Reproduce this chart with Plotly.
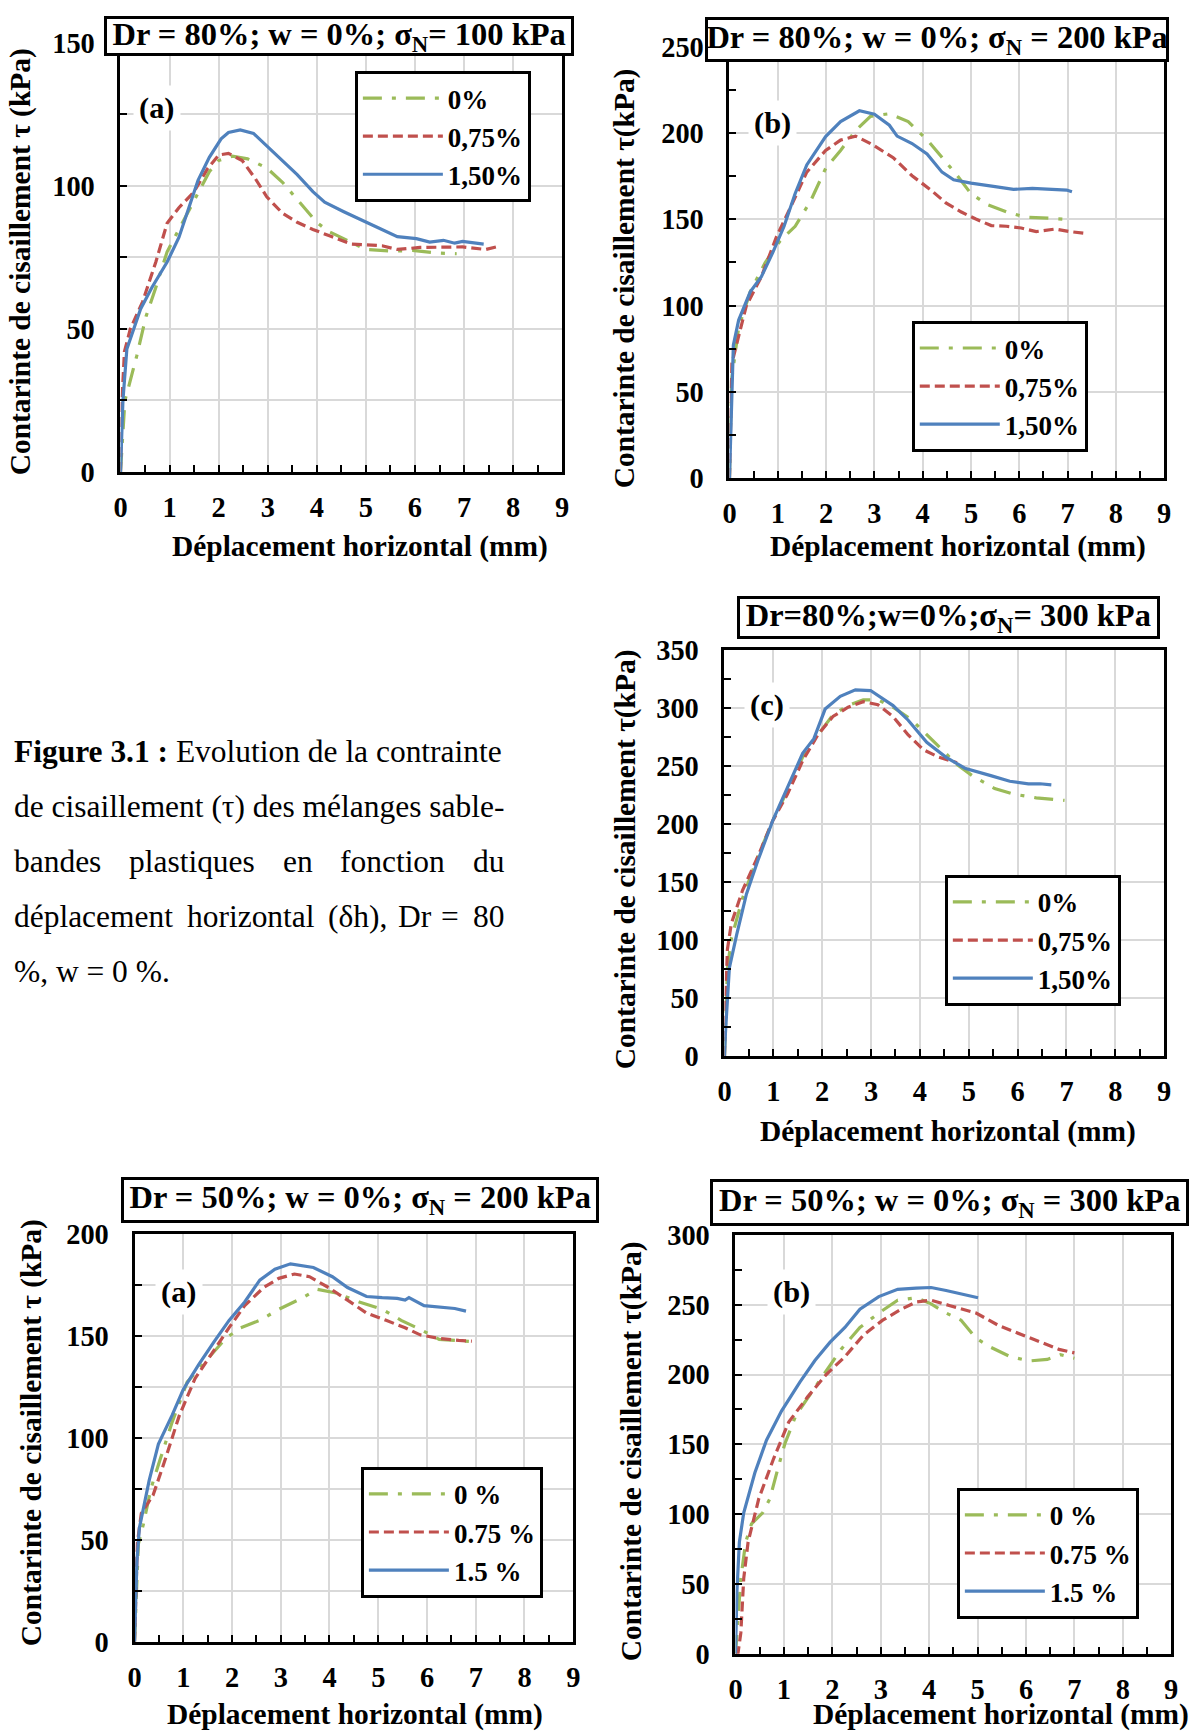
import plotly.graph_objects as go

W, H = 1189, 1731
FONT = "Liberation Serif, Times New Roman, serif"
GREEN, RED, BLUE = "#9BBB59", "#C0504D", "#4F81BD"
GRID = "#D9D9D9"

# ---------------- data ----------------
# Panel 1 : Dr=80%, sigma=100 kPa
p1_x_0 = [0, 0.05, 0.09, 0.17, 0.33, 0.52, 0.72, 0.95, 1.19, 1.42, 1.58, 1.81, 2.0, 2.28, 2.59, 2.98, 3.3, 3.69, 4.0, 4.23, 4.63, 5.0, 5.56, 5.95, 6.41, 6.85]
p1_y_0 = [0, 15, 25, 30, 40.5, 54.4, 64.5, 77, 84.8, 92.4, 98, 105, 108.9, 110.4, 109.5, 106.3, 101.3, 93.7, 87.3, 84.2, 81, 77.8, 77.2, 77.5, 76.6, 76.3]
p1_x_075 = [0, 0.03, 0.08, 0.2, 0.45, 0.72, 0.95, 1.19, 1.5, 1.77, 2.0, 2.2, 2.48, 2.75, 2.98, 3.3, 3.6, 3.92, 4.3, 4.7, 5.33, 5.64, 6.1, 6.58, 6.97, 7.44, 7.71]
p1_y_075 = [0, 25, 42, 50, 59.5, 73.4, 87, 92.4, 98, 106, 110.8, 111.4, 108.9, 102.5, 96.2, 90.5, 87.3, 84.8, 82.3, 79.7, 79.1, 77.8, 78.5, 78.7, 78.7, 77.8, 78.9]
p1_x_150 = [0, 0.05, 0.13, 0.41, 0.64, 0.95, 1.19, 1.42, 1.58, 1.81, 2.05, 2.2, 2.44, 2.71, 2.98, 3.3, 3.6, 3.92, 4.16, 4.55, 4.94, 5.25, 5.64, 6.03, 6.3, 6.58, 6.81, 6.97, 7.4]
p1_y_150 = [0, 25, 43, 57, 64.5, 73.4, 82, 93.7, 102, 110, 116.5, 118.7, 119.6, 118.4, 114, 109, 104, 98, 94.3, 91, 88, 85.4, 82.3, 81.6, 80.4, 81, 80, 80.6, 79.7]

# Panel 2 : Dr=80%, sigma=200 kPa
p2_x_0 = [0, 0.04, 0.19, 0.43, 0.74, 1.05, 1.36, 1.68, 1.99, 2.3, 2.61, 2.92, 3.31, 3.7, 4.09, 4.4, 4.72, 5.0, 5.34, 5.73, 6.12, 6.66, 7.09]
p2_y_0 = [0, 56, 87.4, 108, 125, 137.6, 146, 160.7, 179.5, 190, 201.5, 209.8, 211.3, 206.7, 196.2, 185.8, 175.3, 164.9, 158.6, 154.4, 151.3, 150.6, 149.8]
p2_x_075 = [0, 0.05, 0.16, 0.35, 0.66, 0.97, 1.29, 1.6, 1.99, 2.3, 2.61, 2.92, 3.39, 3.78, 4.17, 4.48, 4.79, 5.1, 5.42, 5.73, 6.04, 6.35, 6.74, 7.05, 7.4]
p2_y_075 = [0, 66.5, 79, 100, 116.7, 139.7, 158.6, 177.4, 190, 196, 198.3, 194, 185.8, 175.3, 167, 159.6, 154.4, 150.2, 146.4, 146, 145, 142.9, 144.4, 142.9, 141.8]
p2_x_150 = [0, 0.08, 0.19, 0.43, 0.66, 0.9, 1.13, 1.36, 1.6, 1.99, 2.3, 2.69, 3.0, 3.31, 3.47, 3.78, 4.09, 4.4, 4.64, 5.0, 5.5, 5.88, 6.27, 6.66, 6.98, 7.09]
p2_y_150 = [0, 77, 91.6, 108, 116.7, 131, 146, 165, 181.6, 198, 206.7, 213, 211, 204.6, 198.3, 194, 187.9, 177.4, 173, 171, 169, 167.4, 168, 167.4, 167, 166]

# Panel 3 : Dr=80%, sigma=300 kPa
p3_x_0 = [0, 0.06, 0.14, 0.37, 0.68, 0.99, 1.29, 1.6, 1.91, 2.22, 2.53, 2.84, 3.14, 3.45, 3.84, 4.14, 4.45, 4.76, 5.07, 5.53, 5.92, 6.38, 6.96]
p3_y_0 = [0, 75, 101, 136, 171.5, 203, 229, 257.6, 276.7, 294, 302, 307, 307, 300.6, 289.4, 276.7, 264, 251.2, 241.6, 230.5, 225.7, 222.5, 220.3]
p3_x_075 = [0, 0.01, 0.06, 0.14, 0.37, 0.68, 0.99, 1.29, 1.6, 1.91, 2.22, 2.53, 2.84, 3.14, 3.45, 3.76, 4.07, 4.38, 4.76]
p3_y_075 = [0, 30, 91.8, 114, 142.8, 171.5, 203, 225.7, 254.4, 276.7, 292.6, 300.6, 305.4, 302.8, 292.6, 276.7, 264, 257.6, 252.8]
p3_x_150 = [0, 0.02, 0.1, 0.25, 0.45, 0.68, 0.99, 1.29, 1.6, 1.83, 2.06, 2.37, 2.68, 2.99, 3.45, 3.76, 4.14, 4.53, 4.92, 5.45, 5.84, 6.22, 6.46, 6.69]
p3_y_150 = [0, 20, 75.9, 104.6, 139.6, 168, 203, 232, 260.8, 273.5, 299, 310, 315.6, 315, 302, 289.4, 270.3, 257.6, 248, 241.6, 236.8, 234.6, 234.6, 233.7]

# Panel 4 : Dr=50%, sigma=200 kPa
p4_x_0 = [0, 0.08, 0.18, 0.34, 0.53, 0.77, 1.08, 1.47, 1.87, 2.18, 2.57, 2.96, 3.43, 3.75, 4.14, 4.61, 5.08, 5.47, 5.86, 6.25, 6.88]
p4_y_0 = [0, 48, 57.5, 75.4, 89.7, 107.6, 127.3, 138, 148.7, 154, 157.6, 163, 168.4, 172.8, 171, 166.6, 163, 157.6, 153.2, 148.3, 147.3]
p4_x_075 = [0, 0.06, 0.14, 0.38, 0.61, 0.92, 1.24, 1.63, 1.94, 2.26, 2.65, 2.96, 3.28, 3.59, 3.98, 4.37, 4.76, 5.16, 5.55, 5.86, 6.25, 6.65, 6.92]
p4_y_075 = [0, 48.6, 63, 71.8, 88, 111, 129, 143.3, 154, 164.8, 173.7, 178.2, 180.3, 179, 173.7, 167.5, 161.2, 157.6, 154, 150.5, 148.7, 147.8, 147.4]
p4_x_150 = [0, 0.05, 0.1, 0.3, 0.49, 0.77, 1.0, 1.32, 1.63, 1.94, 2.26, 2.57, 2.88, 3.2, 3.67, 4.06, 4.37, 4.76, 5.08, 5.39, 5.55, 5.63, 5.94, 6.25, 6.57, 6.8]
p4_y_150 = [0, 39.7, 55.8, 79, 96.9, 111, 123.7, 136, 147, 157.6, 166.6, 177.3, 182.7, 185.3, 183.5, 179, 173.7, 169.3, 168.7, 168.4, 167.5, 168.7, 164.8, 164, 163.4, 162.1]

# Panel 5 : Dr=50%, sigma=300 kPa
p5_x_0 = [0, 0.05, 0.11, 0.21, 0.33, 0.56, 0.71, 0.87, 1.02, 1.25, 1.56, 1.87, 2.18, 2.57, 2.96, 3.35, 3.73, 4.04, 4.35, 4.66, 4.97, 5.28, 5.67, 6.06, 6.44, 6.71, 7.0]
p5_y_0 = [0, 28, 54, 80, 93, 101, 111, 132, 150.4, 171, 186.8, 202.4, 218, 233.7, 244, 253.2, 255, 250.6, 244, 238.9, 225.9, 219.4, 212.9, 209.7, 210.8, 214.2, 211.6]
p5_x_075 = [0, 0.05, 0.11, 0.17, 0.26, 0.48, 0.79, 1.1, 1.49, 1.87, 2.26, 2.65, 3.04, 3.42, 3.73, 4.04, 4.43, 4.97, 5.44, 5.9, 6.37, 6.68, 7.0]
p5_y_075 = [0, 0, 15, 54, 80, 111, 140, 166, 184, 199.8, 212.8, 228.5, 238.9, 246.7, 251.9, 253.2, 249.3, 244, 235, 228.5, 222, 218, 215.5]
p5_x_150 = [0, 0.03, 0.08, 0.17, 0.4, 0.64, 0.95, 1.33, 1.64, 1.95, 2.26, 2.57, 2.96, 3.35, 3.73, 4.04, 4.35, 4.66, 5.01]
p5_y_150 = [0, 45, 80, 101, 129.6, 153, 173.8, 194.6, 210, 223, 233.7, 246.7, 255.8, 261, 261.8, 262.3, 260.2, 257.6, 255]

names_a = ["0%", "0,75%", "1,50%"]
names_b = ["0 %", "0.75 %", "1.5 %"]
titles = ["Dr = 80%; w = 0%; σ<sub>N</sub>= 100 kPa",
          "Dr = 80%; w = 0%; σ<sub>N</sub> = 200 kPa",
          "Dr=80%;w=0%;σ<sub>N</sub>= 300 kPa",
          "Dr = 50%; w = 0%; σ<sub>N</sub> = 200 kPa",
          "Dr = 50%; w = 0%; σ<sub>N</sub> = 300 kPa"]
tags = ["(a)", "(b)", "(c)", "(a)", "(b)"]
ymax = [150, 250, 350, 200, 300]
ytitles = ["Contarinte de cisaillement τ (kPa)", "Contarinte de cisaillement τ(kPa)",
           "Contarinte de cisaillement τ(kPa)", "Contarinte de cisaillement τ (kPa)",
           "Contarinte de cisaillement τ(kPa)"]
xtitle = "Déplacement horizontal (mm)"

series = [
    [(p1_x_0, p1_y_0), (p1_x_075, p1_y_075), (p1_x_150, p1_y_150)],
    [(p2_x_0, p2_y_0), (p2_x_075, p2_y_075), (p2_x_150, p2_y_150)],
    [(p3_x_0, p3_y_0), (p3_x_075, p3_y_075), (p3_x_150, p3_y_150)],
    [(p4_x_0, p4_y_0), (p4_x_075, p4_y_075), (p4_x_150, p4_y_150)],
    [(p5_x_0, p5_y_0), (p5_x_075, p5_y_075), (p5_x_150, p5_y_150)],
]

# ---------------- layout geometry (target pixels in the picture) ----------------
plot_px = [(121, 562, 42, 471), (729, 1163, 46, 477), (724, 1163, 649, 1055),
           (135, 573, 1233, 1641), (735, 1170, 1234, 1653)]
title_px = [(107, 571, 9, 55), (707, 1165, 17, 61), (739, 1156, 596, 638),
            (124, 596, 1177, 1222), (712, 1185, 1179, 1225)]
legend_px = [(355, 70), (911, 320), (944, 874), (361, 1466), (956, 1487)]
tag_pos = [(0.75, 127.4), (0.89, 206), (0.88, 302.7), (0.92, 171.6), (1.15, 259.3)]
ytitle_px = [(22, 261), (625, 277), (626, 858), (33, 1432), (632, 1450)]
xtitle_px = [(360, 546), (957, 546), (947, 1131), (355, 1714), (1000, 1714)]
minor_grid = [True, False, False, True, False]

# the page photograph is slightly shrunk toward its centre; pre-compensate
SX, AX = 0.9866, 7.7
SY, AY = 0.9822, 14.0
FS = 1.015

def fx(px):
    return ((px - AX) / SX) / W

def fy(py):
    return 1 - max((py - AY) / SY, 0) / H

styles = [dict(color=GREEN, width=3.2, dash="19px,10px,4px,10px"),
          dict(color=RED, width=3.2, dash="10px,5px"),
          dict(color=BLUE, width=3.2)]

fig = go.Figure()
layout = dict(width=W, height=H, margin=dict(l=0, r=0, t=0, b=0),
              paper_bgcolor="white", plot_bgcolor="white", hovermode=False)
annotations = []

for i in range(5):
    n = i + 1
    sfx = "" if n == 1 else str(n)
    names = names_a if i < 3 else names_b
    lg = "legend" if n == 1 else "legend%d" % n
    for k in range(3):
        xs, ys = series[i][k]
        fig.add_trace(go.Scatter(x=xs, y=ys, mode="lines", name=names[k], line=styles[k],
                                 xaxis="x" + sfx, yaxis="y" + sfx, legend=lg))
    x0, x1, yt, yb = plot_px[i]
    tickfont = dict(family=FONT, size=28 * FS, color="black", weight="bold")
    layout["xaxis" + sfx] = dict(
        domain=[fx(x0), fx(x1)], range=[0, 9], dtick=1, tick0=0, anchor="y" + sfx,
        showgrid=True, gridcolor=GRID, gridwidth=1.5, zeroline=False,
        showline=True, linecolor="black", linewidth=3, mirror=True,
        ticks="inside", ticklen=7, tickwidth=2, tickcolor="black",
        minor=dict(dtick=0.5, ticks="inside", ticklen=7, tickwidth=2, tickcolor="black", showgrid=False),
        tickfont=tickfont, ticklabelstandoff=8)
    layout["yaxis" + sfx] = dict(
        domain=[fy(yb), fy(yt)], range=[0, ymax[i]], dtick=50, tick0=0, anchor="x" + sfx,
        showgrid=True, gridcolor=GRID, gridwidth=1.5, zeroline=False,
        showline=True, linecolor="black", linewidth=3, mirror=True,
        ticks="inside", ticklen=7, tickwidth=2, tickcolor="black",
        minor=dict(dtick=25, ticks="inside", ticklen=7, tickwidth=2, tickcolor="black",
                   showgrid=minor_grid[i], gridcolor=GRID, gridwidth=1.5),
        tickfont=tickfont, ticklabelstandoff=17)
    lx, ly = legend_px[i]
    layout[lg] = dict(x=fx(lx), y=fy(ly), xanchor="left", yanchor="top",
                      bgcolor="white", bordercolor="black", borderwidth=3,
                      font=dict(family=FONT, size=27, color="black", weight="bold"),
                      itemwidth=80, tracegroupgap=0)
    # title box
    tx0, tx1, ty0, ty1 = title_px[i]
    top = max((ty0 - AY) / SY, 1.5)
    bot = (ty1 - AY) / SY
    left = (tx0 - AX) / SX
    right = (tx1 - AX) / SX
    annotations.append(dict(
        xref="paper", yref="paper", x=(left + right) / 2 / W, y=1 - (top + bot) / 2 / H,
        xanchor="center", yanchor="middle", text=titles[i], showarrow=False,
        width=right - left - 6, height=bot - top - 6, borderpad=0, borderwidth=3,
        bordercolor="black", bgcolor="white",
        font=dict(family=FONT, size=32 * FS, color="black", weight="bold")))
    # panel tag
    annotations.append(dict(
        xref="x" + sfx, yref="y" + sfx, x=tag_pos[i][0], y=tag_pos[i][1],
        text=tags[i], showarrow=False, bgcolor="white", borderpad=5,
        font=dict(family=FONT, size=30 * FS, color="black", weight="bold")))
    # axis titles
    ax, ay = ytitle_px[i]
    annotations.append(dict(
        xref="paper", yref="paper", x=fx(ax), y=fy(ay), textangle=-90,
        text=ytitles[i], showarrow=False, xanchor="center", yanchor="middle",
        font=dict(family=FONT, size=29 * FS, color="black", weight="bold")))
    bx, by = xtitle_px[i]
    annotations.append(dict(
        xref="paper", yref="paper", x=fx(bx), y=fy(by),
        text=xtitle, showarrow=False, xanchor="center", yanchor="middle",
        font=dict(family=FONT, size=29 * FS, color="black", weight="bold")))

# caption
cap_font = dict(family=FONT, size=31 * FS, color="black")
cap_lines = [
    (751, [(13, "<b>Figure 3.1 :</b> Evolution de la contrainte")]),
    (806, [(13, "de cisaillement (τ) des mélanges sable-")]),
    (861, [(13, "bandes"), (128, "plastiques"), (281, "en"), (338, "fonction"), (471, "du")]),
    (916, [(13, "déplacement"), (185, "horizontal"), (326, "(δh),"), (396, "Dr"), (439, "="), (471, "80")]),
    (971, [(13, "%, w = 0 %.")]),
]
for cy, words in cap_lines:
    for cx, txt in words:
        annotations.append(dict(xref="paper", yref="paper", x=fx(cx), y=fy(cy),
                                xanchor="left", yanchor="middle", text=txt,
                                showarrow=False, font=cap_font))

layout["annotations"] = annotations
fig.update_layout(**layout)
fig.write_html("out.html", config={"displayModeBar": False},
               post_script="document.body.style.margin='0';document.body.style.padding='0';"
                           "document.documentElement.style.overflow='hidden';")
